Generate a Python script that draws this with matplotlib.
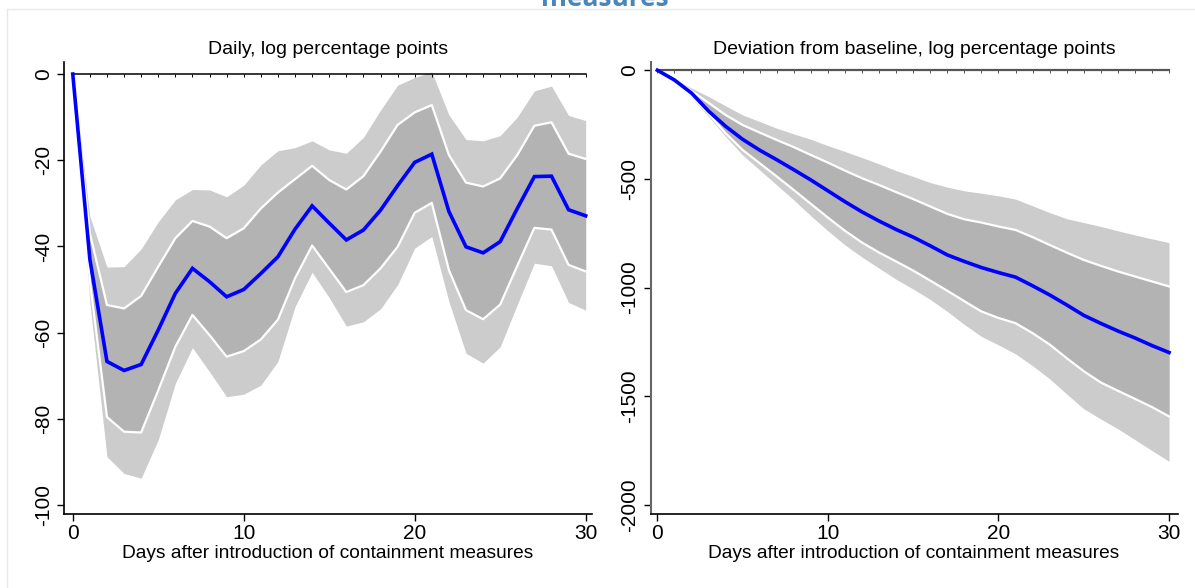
import matplotlib
matplotlib.use("Agg")
import matplotlib.pyplot as plt
from matplotlib.lines import Line2D

plt.rcParams['font.family'] = ['Liberation Sans', 'DejaVu Sans']
plt.rcParams['axes.unicode_minus'] = False

# Days after introduction of containment measures
days = list(range(31))

# Left panel: daily effect, log percentage points
daily_est = [0, -43, -66.7, -68.8, -67.4, -59.4, -50.9, -45.1, -48.2, -51.7, -50.0,
             -46.3, -42.4, -36.0, -30.6, -34.6, -38.5, -36.2, -31.6, -25.9, -20.5,
             -18.6, -31.9, -40.1, -41.5, -38.9, -31.2, -23.8, -23.7, -31.5, -32.9]
daily_in_hi = [0, -37, -53.6, -54.4, -51.5, -44.7, -38.1, -34.1, -35.4, -38.1, -35.8,
               -31.2, -27.5, -24.4, -21.3, -24.6, -26.8, -23.7, -18.0, -11.8, -8.9,
               -7.2, -18.8, -25.2, -26.1, -24.2, -18.8, -12.0, -11.2, -18.5, -19.7]
daily_out_hi = [0, -33, -44.8, -44.7, -40.6, -34.3, -29.2, -26.8, -26.9, -28.5, -25.8,
                -21.1, -17.8, -17.1, -15.5, -17.6, -18.4, -14.7, -8.4, -2.6, -0.8,
                0.5, -9.5, -15.2, -15.5, -14.3, -10.0, -3.9, -2.8, -9.6, -10.8]
daily_in_lo = [0, -48, -79.6, -83.0, -83.2, -73.4, -63.3, -55.9, -60.6, -65.6, -64.3,
               -61.6, -57.0, -47.4, -39.8, -45.2, -50.6, -49.0, -45.1, -40.1, -32.2,
               -29.9, -45.5, -54.8, -56.9, -53.5, -44.5, -35.7, -36.1, -44.3, -45.8]
daily_out_lo = [0, -53, -88.8, -92.7, -93.8, -84.9, -71.8, -63.5, -69.1, -74.9, -74.3,
                -72.2, -66.7, -54.0, -46.0, -51.9, -58.5, -57.5, -54.5, -48.9, -40.4,
                -37.7, -52.8, -64.8, -67.1, -63.3, -53.5, -43.9, -44.5, -53.0, -54.8]

# Right panel: cumulative deviation from baseline
cum_est = [0, -45, -105, -188, -258, -318, -368, -412, -458, -505, -555,
           -605, -652, -694, -733, -768, -808, -850, -880, -908, -931,
           -952, -992, -1034, -1080, -1128, -1165, -1200, -1232, -1267, -1299]
cum_in_hi = [0, -42, -95, -150, -206, -252, -287, -321, -354, -390, -425,
             -462, -497, -528, -561, -593, -627, -661, -686, -701, -719,
             -735, -768, -804, -839, -873, -900, -926, -949, -972, -995]
cum_out_hi = [0, -40, -82, -121, -164, -206, -236, -267, -293, -318, -347,
              -374, -402, -431, -462, -489, -517, -538, -555, -566, -578,
              -593, -624, -655, -683, -701, -719, -739, -758, -776, -793]
cum_in_lo = [0, -48, -120, -200, -290, -367, -428, -489, -551, -615, -678,
             -739, -793, -839, -880, -922, -968, -1015, -1063, -1110, -1140,
             -1164, -1210, -1262, -1325, -1385, -1437, -1475, -1512, -1550, -1593]
cum_out_lo = [0, -50, -128, -213, -305, -390, -459, -528, -597, -670, -739,
              -804, -860, -911, -962, -1007, -1055, -1110, -1170, -1225, -1264,
              -1305, -1360, -1420, -1490, -1558, -1605, -1650, -1700, -1750, -1800]

xlabel = "Days after introduction of containment measures"

fig = plt.figure(figsize=(11.95, 5.88), dpi=100)
ax1 = fig.add_axes([0.0536, 0.1259, 0.4418, 0.7687])
ax2 = fig.add_axes([0.5444, 0.1259, 0.4410, 0.7687])


def draw_panel(ax, est, in_hi, out_hi, in_lo, out_lo, zero_color, zero_lw):
    ax.fill_between(days, out_lo, out_hi, color='#cccccc', lw=0)
    ax.fill_between(days, in_lo, in_hi, color='#b3b3b3', lw=0)
    ax.plot(days, in_hi, color='white', lw=1.6)
    ax.plot(days, in_lo, color='white', lw=1.6)
    ax.plot(days, [0] * len(days), color=zero_color, lw=zero_lw,
            marker=3, markersize=2.2, markeredgewidth=0.7, markeredgecolor=zero_color)
    ax.plot(days, est, color='#0000ff', lw=2.6, solid_joinstyle='miter')
    ax.spines['top'].set_visible(False)
    ax.spines['right'].set_visible(False)
    ax.set_xticks([0, 10, 20, 30])
    ax.tick_params(axis='both', labelsize=15, length=5, width=1, direction='out')
    ax.tick_params(axis='x', pad=2)
    ax.tick_params(axis='y', labelrotation=90, pad=3)
    for lab in ax.get_yticklabels():
        lab.set_va('center')
    ax.set_xlabel(xlabel, fontsize=13.8, labelpad=2)


draw_panel(ax1, daily_est, daily_in_hi, daily_out_hi, daily_in_lo, daily_out_lo,
           'black', 1.1)
ax1.set_xlim(-0.51, 30.37)
ax1.set_ylim(-102.1, 2.8)
ax1.set_yticks([0, -20, -40, -60, -80, -100])
ax1.set_title("Daily, log percentage points", fontsize=14, pad=6)
for sp in ['left', 'bottom']:
    ax1.spines[sp].set_linewidth(1.2)

draw_panel(ax2, cum_est, cum_in_hi, cum_out_hi, cum_in_lo, cum_out_lo,
           '#555555', 1.6)
ax2.set_xlim(-0.40, 30.5)
ax2.set_ylim(-2042, 38)
ax2.set_yticks([0, -500, -1000, -1500, -2000])
ax2.set_title("Deviation from baseline, log percentage points", fontsize=14, pad=6)
ax2.spines['left'].set_color('#666666')
ax2.spines['left'].set_linewidth(1.5)
ax2.spines['bottom'].set_linewidth(1.2)

# page frame and the clipped heading above the charts
fig.add_artist(Line2D([7 / 1195, 1], [1 - 9 / 588, 1 - 9 / 588], color='#e3eaee', lw=1))
fig.add_artist(Line2D([7 / 1195, 7 / 1195], [0, 1 - 9 / 588], color='#e3eaee', lw=1))
fig.text(0.506, 1 - 6 / 588, "measures", ha='center', va='baseline', fontsize=19,
         fontweight='bold', color='#4a86b8', family='Open Sans')

fig.savefig("out.png", dpi=100)
